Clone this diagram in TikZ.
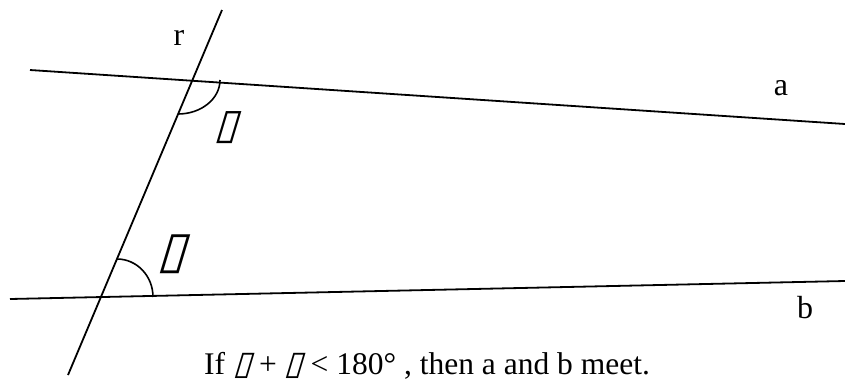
\documentclass[tikz,border=0pt]{standalone}
\usepackage{fontspec}
\setmainfont{Liberation Serif}
\newfontfamily\boxfont[FakeSlant=0.3]{DejaVu Sans}
\newcommand{\bx}[1]{{\boxfont\fontsize{#1}{#1}\selectfont ▯}}
\begin{document}
\begin{tikzpicture}[x=1pt,y=-1pt,
  geoline/.style={line width=1.8pt,line cap=butt},
  anglearc/.style={line width=1.6pt},
  lbl/.style={font=\fontsize{32}{38}\selectfont,inner sep=0pt},
  glyph/.style={inner sep=0pt}]
\useasboundingbox (0,0) rectangle (845,381);
% line endpoints
\coordinate (rT) at (222,10);
\coordinate (rB) at (68,375);
\coordinate (aL) at (30,70);
\coordinate (aR) at (845,124);
\coordinate (bL) at (10,299);
\coordinate (bR) at (845,281);
\draw[geoline] (rT) -- (rB);
\draw[geoline] (aL) -- (aR);
\draw[geoline] (bL) -- (bR);
% angle arcs
\coordinate (a1) at (220,80);
\coordinate (a2) at (178,114);
\draw[anglearc] (a1) .. controls (220,98.8) and (201.2,114) .. (a2);
\coordinate (b1) at (153,297);
\coordinate (b2) at (117,259);
\draw[anglearc] (b1) .. controls (153,276) and (136.9,259) .. (b2);
% labels
\node[lbl] (lr) at (179,38) {r};
\node[lbl] (la) at (781,88) {a};
\node[lbl] (lb) at (805,308) {b};
\node[glyph] (g1) at (226,128) {\bx{42}};
\node[glyph] (g2) at (172,254) {\bx{51}};
\node[lbl,anchor=base,font=\fontsize{31.5}{38}\selectfont] (cap) at (427,374) {If \bx{33} + \bx{33} < 180° , then a and b meet.};
\end{tikzpicture}
\end{document}
